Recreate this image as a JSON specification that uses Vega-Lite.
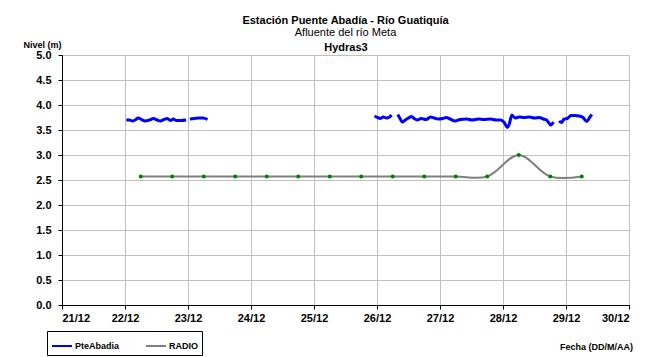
{
  "$schema": "https://vega.github.io/schema/vega-lite/v6.json",
  "autosize": "none",
  "width": 567,
  "height": 250,
  "padding": {"left": 62, "top": 55, "right": 26, "bottom": 52},
  "background": "white",
  "config": {
    "font": "Liberation Sans",
    "view": {"stroke": "#808080", "strokeWidth": 1},
    "axis": {"labelFont": "Liberation Sans", "titleFont": "Liberation Sans"}
  },
  "title": {
    "text": "Estación Puente Abadía  - Río Guatiquía",
    "subtitle": "Afluente del río Meta",
    "font": "Liberation Sans",
    "subtitleFont": "Liberation Sans",
    "fontSize": 11,
    "fontWeight": "bold",
    "subtitleFontSize": 11,
    "subtitleColor": "black",
    "color": "black",
    "anchor": "middle",
    "offset": 2,
    "subtitlePadding": 1
  },
  "datasets": {
    "nivel": [
      {"serie": "PteAbadia", "seg": 1, "day": 22.02, "nivel": 3.70},
      {"serie": "PteAbadia", "seg": 1, "day": 22.07, "nivel": 3.70},
      {"serie": "PteAbadia", "seg": 1, "day": 22.12, "nivel": 3.68},
      {"serie": "PteAbadia", "seg": 1, "day": 22.16, "nivel": 3.70},
      {"serie": "PteAbadia", "seg": 1, "day": 22.21, "nivel": 3.74},
      {"serie": "PteAbadia", "seg": 1, "day": 22.26, "nivel": 3.71},
      {"serie": "PteAbadia", "seg": 1, "day": 22.32, "nivel": 3.68},
      {"serie": "PteAbadia", "seg": 1, "day": 22.39, "nivel": 3.70},
      {"serie": "PteAbadia", "seg": 1, "day": 22.45, "nivel": 3.73},
      {"serie": "PteAbadia", "seg": 1, "day": 22.51, "nivel": 3.70},
      {"serie": "PteAbadia", "seg": 1, "day": 22.56, "nivel": 3.68},
      {"serie": "PteAbadia", "seg": 1, "day": 22.62, "nivel": 3.71},
      {"serie": "PteAbadia", "seg": 1, "day": 22.67, "nivel": 3.73},
      {"serie": "PteAbadia", "seg": 1, "day": 22.72, "nivel": 3.69},
      {"serie": "PteAbadia", "seg": 1, "day": 22.77, "nivel": 3.72},
      {"serie": "PteAbadia", "seg": 1, "day": 22.81, "nivel": 3.69},
      {"serie": "PteAbadia", "seg": 1, "day": 22.88, "nivel": 3.69},
      {"serie": "PteAbadia", "seg": 1, "day": 22.97, "nivel": 3.70},
      {"serie": "PteAbadia", "seg": 2, "day": 23.03, "nivel": 3.72},
      {"serie": "PteAbadia", "seg": 2, "day": 23.10, "nivel": 3.73},
      {"serie": "PteAbadia", "seg": 2, "day": 23.18, "nivel": 3.74},
      {"serie": "PteAbadia", "seg": 2, "day": 23.24, "nivel": 3.74},
      {"serie": "PteAbadia", "seg": 2, "day": 23.31, "nivel": 3.71},
      {"serie": "PteAbadia", "seg": 3, "day": 25.96, "nivel": 3.78},
      {"serie": "PteAbadia", "seg": 3, "day": 26.01, "nivel": 3.75},
      {"serie": "PteAbadia", "seg": 3, "day": 26.05, "nivel": 3.73},
      {"serie": "PteAbadia", "seg": 3, "day": 26.10, "nivel": 3.76},
      {"serie": "PteAbadia", "seg": 3, "day": 26.15, "nivel": 3.74},
      {"serie": "PteAbadia", "seg": 3, "day": 26.20, "nivel": 3.76},
      {"serie": "PteAbadia", "seg": 3, "day": 26.23, "nivel": 3.80},
      {"serie": "PteAbadia", "seg": 4, "day": 26.33, "nivel": 3.81},
      {"serie": "PteAbadia", "seg": 4, "day": 26.37, "nivel": 3.72},
      {"serie": "PteAbadia", "seg": 4, "day": 26.40, "nivel": 3.66},
      {"serie": "PteAbadia", "seg": 4, "day": 26.45, "nivel": 3.70},
      {"serie": "PteAbadia", "seg": 4, "day": 26.50, "nivel": 3.74},
      {"serie": "PteAbadia", "seg": 4, "day": 26.55, "nivel": 3.77},
      {"serie": "PteAbadia", "seg": 4, "day": 26.59, "nivel": 3.73},
      {"serie": "PteAbadia", "seg": 4, "day": 26.64, "nivel": 3.70},
      {"serie": "PteAbadia", "seg": 4, "day": 26.70, "nivel": 3.73},
      {"serie": "PteAbadia", "seg": 4, "day": 26.78, "nivel": 3.71},
      {"serie": "PteAbadia", "seg": 4, "day": 26.85, "nivel": 3.76},
      {"serie": "PteAbadia", "seg": 4, "day": 26.91, "nivel": 3.74},
      {"serie": "PteAbadia", "seg": 4, "day": 26.97, "nivel": 3.72},
      {"serie": "PteAbadia", "seg": 4, "day": 27.04, "nivel": 3.73},
      {"serie": "PteAbadia", "seg": 4, "day": 27.10, "nivel": 3.75},
      {"serie": "PteAbadia", "seg": 4, "day": 27.16, "nivel": 3.72},
      {"serie": "PteAbadia", "seg": 4, "day": 27.24, "nivel": 3.68},
      {"serie": "PteAbadia", "seg": 4, "day": 27.32, "nivel": 3.71},
      {"serie": "PteAbadia", "seg": 4, "day": 27.42, "nivel": 3.72},
      {"serie": "PteAbadia", "seg": 4, "day": 27.51, "nivel": 3.70},
      {"serie": "PteAbadia", "seg": 4, "day": 27.61, "nivel": 3.72},
      {"serie": "PteAbadia", "seg": 4, "day": 27.70, "nivel": 3.71},
      {"serie": "PteAbadia", "seg": 4, "day": 27.80, "nivel": 3.72},
      {"serie": "PteAbadia", "seg": 4, "day": 27.89, "nivel": 3.70},
      {"serie": "PteAbadia", "seg": 4, "day": 27.96, "nivel": 3.70},
      {"serie": "PteAbadia", "seg": 4, "day": 28.02, "nivel": 3.65},
      {"serie": "PteAbadia", "seg": 4, "day": 28.07, "nivel": 3.55},
      {"serie": "PteAbadia", "seg": 4, "day": 28.10, "nivel": 3.62},
      {"serie": "PteAbadia", "seg": 4, "day": 28.14, "nivel": 3.80},
      {"serie": "PteAbadia", "seg": 4, "day": 28.19, "nivel": 3.74},
      {"serie": "PteAbadia", "seg": 4, "day": 28.26, "nivel": 3.76},
      {"serie": "PteAbadia", "seg": 4, "day": 28.34, "nivel": 3.75},
      {"serie": "PteAbadia", "seg": 4, "day": 28.42, "nivel": 3.76},
      {"serie": "PteAbadia", "seg": 4, "day": 28.50, "nivel": 3.74},
      {"serie": "PteAbadia", "seg": 4, "day": 28.58, "nivel": 3.75},
      {"serie": "PteAbadia", "seg": 4, "day": 28.64, "nivel": 3.72},
      {"serie": "PteAbadia", "seg": 4, "day": 28.69, "nivel": 3.70},
      {"serie": "PteAbadia", "seg": 4, "day": 28.73, "nivel": 3.64},
      {"serie": "PteAbadia", "seg": 4, "day": 28.76, "nivel": 3.60},
      {"serie": "PteAbadia", "seg": 4, "day": 28.80, "nivel": 3.66},
      {"serie": "PteAbadia", "seg": 5, "day": 28.89, "nivel": 3.68},
      {"serie": "PteAbadia", "seg": 5, "day": 28.93, "nivel": 3.65},
      {"serie": "PteAbadia", "seg": 5, "day": 28.97, "nivel": 3.72},
      {"serie": "PteAbadia", "seg": 5, "day": 29.02, "nivel": 3.73},
      {"serie": "PteAbadia", "seg": 5, "day": 29.08, "nivel": 3.79},
      {"serie": "PteAbadia", "seg": 5, "day": 29.14, "nivel": 3.79},
      {"serie": "PteAbadia", "seg": 5, "day": 29.21, "nivel": 3.78},
      {"serie": "PteAbadia", "seg": 5, "day": 29.27, "nivel": 3.75},
      {"serie": "PteAbadia", "seg": 5, "day": 29.33, "nivel": 3.67},
      {"serie": "PteAbadia", "seg": 5, "day": 29.38, "nivel": 3.76},
      {"serie": "PteAbadia", "seg": 5, "day": 29.41, "nivel": 3.81}
    ],
    "radio": [
      {"serie": "RADIO", "day": 22.25, "nivel": 2.57},
      {"serie": "RADIO", "day": 22.75, "nivel": 2.57},
      {"serie": "RADIO", "day": 23.25, "nivel": 2.57},
      {"serie": "RADIO", "day": 23.75, "nivel": 2.57},
      {"serie": "RADIO", "day": 24.25, "nivel": 2.57},
      {"serie": "RADIO", "day": 24.75, "nivel": 2.57},
      {"serie": "RADIO", "day": 25.25, "nivel": 2.57},
      {"serie": "RADIO", "day": 25.75, "nivel": 2.57},
      {"serie": "RADIO", "day": 26.25, "nivel": 2.57},
      {"serie": "RADIO", "day": 26.75, "nivel": 2.57},
      {"serie": "RADIO", "day": 27.25, "nivel": 2.57},
      {"serie": "RADIO", "day": 27.75, "nivel": 2.57},
      {"serie": "RADIO", "day": 28.25, "nivel": 3.0},
      {"serie": "RADIO", "day": 28.75, "nivel": 2.57},
      {"serie": "RADIO", "day": 29.25, "nivel": 2.57}
    ]
  },
  "resolve": {"axis": {"x": "independent"}},
  "encoding": {
    "y": {
      "field": "nivel",
      "type": "quantitative",
      "scale": {"domain": [0, 5], "nice": false},
      "axis": {
        "values": [0, 0.5, 1, 1.5, 2, 2.5, 3, 3.5, 4, 4.5, 5],
        "format": ".1f",
        "labelOverlap": false,
        "labelFontWeight": "bold",
        "labelFontSize": 11,
        "labelColor": "black",
        "labelPadding": 7,
        "tickSize": 4,
        "tickColor": "black",
        "domainColor": "black",
        "gridColor": "#C0C0C0",
        "title": "Nivel (m)",
        "titleFontSize": 9,
        "titleFontWeight": "bold",
        "titleColor": "black",
        "titleAngle": 0,
        "titleX": -20,
        "titleY": -8,
        "titleAlign": "center",
        "titleBaseline": "alphabetic"
      }
    }
  },
  "layer": [
    {
      "encoding": {
        "x": {
          "field": "day",
          "type": "quantitative",
          "scale": {"domain": [21, 30], "nice": false, "zero": false},
          "axis": {
            "values": [21, 22, 23, 24, 25, 26, 27, 28, 29, 30],
            "labelExpr": "datum.value + '/12'",
            "labelOverlap": false,
            "labelFontWeight": "bold",
            "labelFontSize": 11,
            "labelColor": "black",
            "labelPadding": 3,
            "tickSize": 4,
            "tickColor": "black",
            "domainColor": "black",
            "gridColor": "#C0C0C0",
            "title": "Fecha (DD/M/AA)",
            "titleFontSize": 9,
            "titleFontWeight": "bold",
            "titleColor": "black",
            "titleX": 534,
            "titleY": 44,
            "titleAlign": "center",
            "titleBaseline": "alphabetic"
          }
        },
        "color": {
          "field": "serie",
          "type": "nominal",
          "scale": {"domain": ["PteAbadia", "RADIO"], "range": ["#0000FF", "#808080"]},
          "legend": {
            "orient": "none",
            "legendX": -15,
            "legendY": 276,
            "direction": "horizontal",
            "title": null,
            "strokeColor": "black",
            "padding": 4,
            "labelFont": "Liberation Sans",
            "labelFontSize": 9,
            "labelFontWeight": "bold",
            "labelColor": "black",
            "labelOffset": 2,
            "symbolType": "stroke",
            "symbolSize": 400,
            "symbolStrokeWidth": 2,
            "columnPadding": 22
          }
        }
      },
      "layer": [
        {
          "data": {"name": "nivel"},
          "mark": {"type": "line", "strokeWidth": 3, "interpolate": "monotone"},
          "encoding": {"detail": {"field": "seg", "type": "nominal"}}
        },
        {
          "data": {"name": "radio"},
          "mark": {"type": "line", "strokeWidth": 2, "interpolate": "catmull-rom"},
          "encoding": {}
        }
      ]
    },
    {
      "data": {"name": "radio"},
      "mark": {"type": "point", "filled": true, "color": "#008000", "opacity": 1, "size": 16},
      "encoding": {
        "x": {
          "field": "day",
          "type": "quantitative",
          "scale": {"domain": [21, 30], "nice": false, "zero": false},
          "axis": {
            "orient": "top",
            "labels": false,
            "ticks": false,
            "domain": false,
            "grid": false,
            "title": "Hydras3",
            "titleFontSize": 11,
            "titleFontWeight": "bold",
            "titleColor": "black",
            "titlePadding": 3
          }
        }
      }
    }
  ]
}
